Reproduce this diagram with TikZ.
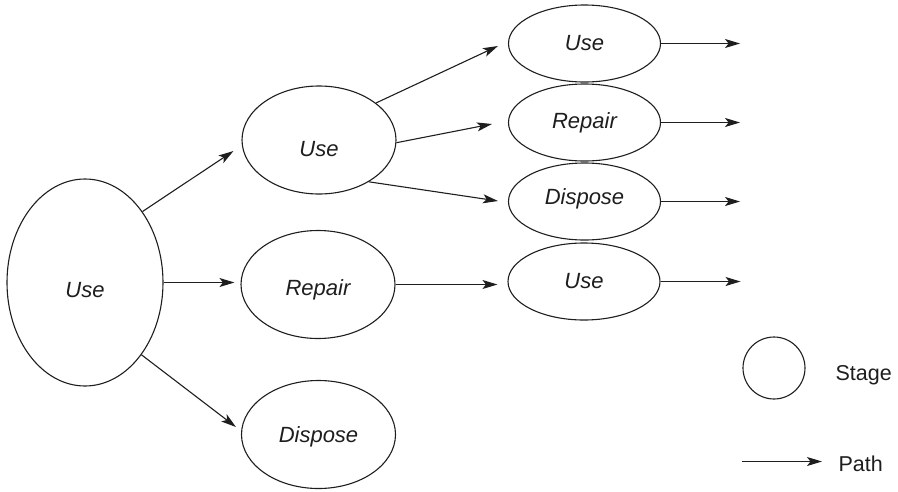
\documentclass[tikz,border=0pt]{standalone}
\usepackage{fontspec}
\setmainfont{Liberation Sans}
\usetikzlibrary{arrows.meta,calc,shapes.geometric}
\definecolor{ink}{HTML}{1E1E1E}
\begin{document}
\begin{tikzpicture}[x=1pt,y=-1pt,
  line width=1.1pt, draw=ink,
  stage/.style={draw=ink, ellipse, inner sep=0pt},
  big/.style={stage, minimum width=156pt, minimum height=207pt},
  mid/.style={stage, minimum width=154pt, minimum height=108pt},
  small/.style={stage, minimum width=152pt, minimum height=77pt},
  lbl/.style={font=\fontsize{22}{26}\selectfont\itshape, text=ink, inner sep=0pt},
  legend/.style={font=\fontsize{21.5}{26}\selectfont, text=ink, inner sep=0pt},
  conn/.style={draw=ink, -{Stealth[length=15pt,width=9pt,inset=3.5pt]}},
]
\useasboundingbox (0,0) rectangle (898,491);

% first stage
\node[big] (u0) at (85,282.5) {};
\node[lbl] at ([yshift=-8pt]u0.center) {Use};

% second stages
\node[mid] (u1) at (319,140) {};
\node[lbl] at ([yshift=-9pt]u1.center) {Use};
\node[mid] (r1) at (318,284.5) {};
\node[lbl] at ([yshift=-5pt]r1.center) {Repair};
\node[mid] (d1) at (318.5,434.5) {};
\node[lbl] at ([yshift=-2pt]d1.center) {Dispose};

% third stages
\node[small] (u2) at (584.5,43.5) {};
\node[lbl] at (u2.center) {Use};
\node[small] (r2) at (584.5,122.5) {};
\node[lbl] at (r2.center) {Repair};
\node[small] (d2) at (584.5,201.5) {};
\node[lbl] at ([yshift=3pt]d2.center) {Dispose};
\node[small] (u3) at (584,281.5) {};
\node[lbl] at (u3.center) {Use};

% paths out of the first stage
\draw[conn] (u0.51) -- ($(u1.west)+(-8,11)$);
\draw[conn, shorten >=6pt] (u0.east) -- (u0.east -| r1.west);
\draw[conn] (u0.-52) -- ($(d1.west)+(-5,-7.5)$);

% paths out of the second stages
\draw[conn] (u1.33.5) -- ($(u2.west)+(-10,2.5)$);
\draw[conn] (u1.-2) -- ($(r2.west)+(-16,1.5)$);
\draw[conn] (u1.-40.6) -- ($(d2.west)+(-10,-0.5)$);
\draw[conn, shorten >=10pt] (r1.east) -- (r1.east -| u3.west);

% paths leading on
\draw[conn] (u2.east) -- ++(79,0);
\draw[conn] (r2.east) -- ++(79,0);
\draw[conn] (d2.east) -- ++(79,0);
\draw[conn] (u3.east) -- ++(80,0);

% legend
\node[draw=ink, circle, minimum size=62pt, inner sep=0pt] (key) at (774,368) {};
\node[legend, anchor=base west] (keytext) at (835,380) {Stage};
\coordinate (pathstart) at (742,461.5);
\node[legend, anchor=base west] (pathtext) at (838,471.5) {Path};
\draw[conn] (pathstart) -- ++(80,0);
\end{tikzpicture}
\end{document}
